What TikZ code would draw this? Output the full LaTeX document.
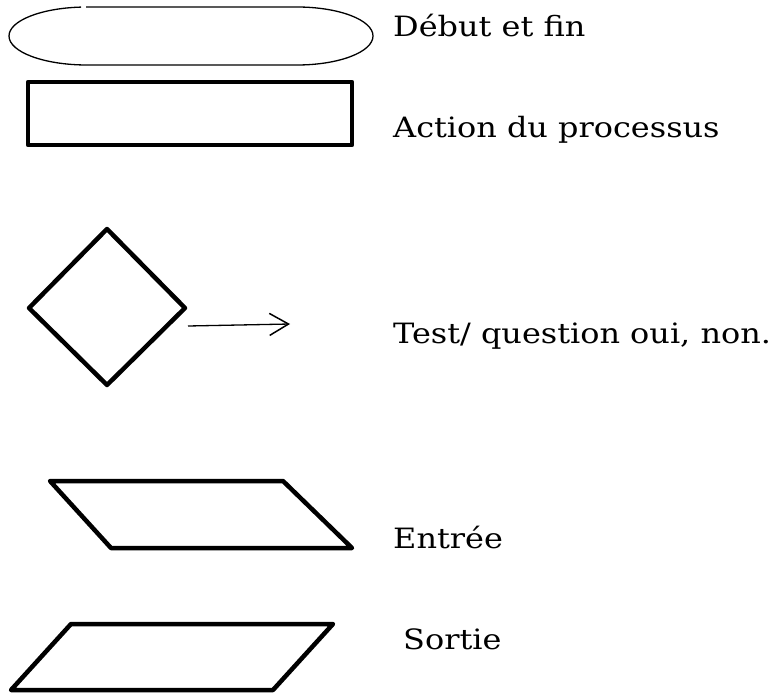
\documentclass[tikz,border=0pt]{standalone}
\usepackage{fontspec}
\setmainfont{DejaVu Serif}[FakeStretch=1.14]
\usetikzlibrary{arrows.meta}
\begin{document}
\begin{tikzpicture}[x=1pt,y=-1pt,
  thinline/.style={line width=1.3pt},
  thickline/.style={line width=4.5pt, line join=round},
  legend/.style={anchor=base west, inner sep=0pt, font=\fontsize{28}{32}\selectfont}]
\useasboundingbox (0,0) rectangle (773,695);

% start / end terminal (stadium with elliptical ends)
\draw[thinline] (86,7) -- (297,7)
  arc[start angle=-90, end angle=90, x radius=76, y radius=29]
  -- (87,65)
  arc[start angle=90, end angle=265.6, x radius=78, y radius=29];

% process box
\draw[thickline] (28,82) rectangle (352,145);

% decision diamond
\draw[thickline] (107,229) -- (185,308) -- (107,385) -- (29,308) -- cycle;
\coordinate (qfrom) at (188,326);
\coordinate (qto) at (290,324);
\draw[thinline, -{Straight Barb[length=19pt, width=22pt, line width=1.5pt]}] (qfrom) -- (qto);

% input parallelogram
\draw[thickline] (50,481) -- (283,481) -- (352,548) -- (111,548) -- cycle;

% output parallelogram
\draw[thickline] (71,624) -- (333,624) -- (273,690) -- (11,690) -- cycle;

% legend texts
\node[legend] (t1) at (393,37) {Début et fin};
\node[legend] (t2) at (393,138) {Action du processus};
\node[legend] (t3) at (393,343) {Test/ question oui, non.};
\node[legend] (t4) at (393,548) {Entrée};
\node[legend] (t5) at (403,649) {Sortie};
\end{tikzpicture}
\end{document}
